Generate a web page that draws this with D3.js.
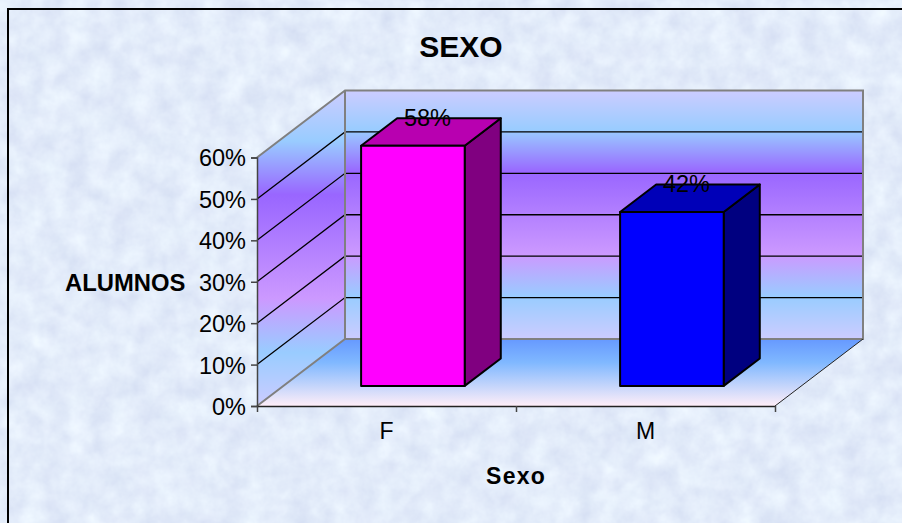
<!DOCTYPE html>
<html>
<head>
  <meta charset="utf-8">
  <script src="https://d3js.org/d3.v7.min.js"></script>
  <style>
    body { margin: 0; background: #fff; }
    svg { display: block; }
    text { font-family: "Liberation Sans", Arial, sans-serif; fill: #000; }
  </style>
</head>
<body>
<div id="chart"></div>
<script>
    // Data
    var categories = ["F", "M"];
    var values = [0.58, 0.42];
    var valueLabels = ["58%", "42%"];
    var yTicks = [0, 0.1, 0.2, 0.3, 0.4, 0.5, 0.6];
    var frontColors = ["#ff00ff", "#0000ff"];
    var topColors = ["#b800b0", "#0000b8"];
    var sideColors = ["#800080", "#000080"];
    var wallStops = [
        [0, "#ccccff"], [0.16, "#99ccff"], [0.33, "#9966ff"],
        [0.66, "#cc99ff"], [0.83, "#99ccff"], [1, "#ccccff"]
    ];
    var floorStops = [[0, "#6699ff"], [0.35, "#80b8ff"], [1, "#ffeef8"]];

    var width = 902, height = 523;
    var left = 257, right = 775, bottom = 406, top_ = 157.5;
    var depthX = 88, depthY = -67;

    var svg = d3.select("#chart").append("svg")
        .attr("width", width)
        .attr("height", height);

    var defs = svg.append("defs");

    // mottled paper background
    var paper = defs.append("filter").attr("id", "paper")
        .attr("x", 0).attr("y", 0).attr("width", 1).attr("height", 1)
        .attr("color-interpolation-filters", "sRGB");
    paper.append("feTurbulence")
        .attr("type", "fractalNoise")
        .attr("baseFrequency", 0.045)
        .attr("numOctaves", 4)
        .attr("seed", 4);
    paper.append("feColorMatrix")
        .attr("type", "matrix")
        .attr("values", "0.12 0.04 0 0 0.81  0.12 0.03 0 0 0.85  0.06 0.02 0 0 0.94  0 0 0 0 1");

    function addGradient(id, stops) {
        var g = defs.append("linearGradient").attr("id", id)
            .attr("x1", 0).attr("y1", 0).attr("x2", 0).attr("y2", 1);
        stops.forEach(function (s) {
            g.append("stop").attr("offset", s[0]).attr("stop-color", s[1]);
        });
    }
    addGradient("wall", wallStops);
    addGradient("floor", floorStops);

    // Scales
    var x = d3.scaleBand()
        .domain(categories)
        .range([left, right])
        .paddingInner(0.6)
        .paddingOuter(0.3);
    var xEdges = d3.scaleLinear().domain([0, categories.length]).range([left, right]);
    var y = d3.scaleLinear().domain([0, 0.6]).range([bottom, top_]);
    var dx = d3.scaleLinear().domain([0, 1]).range([0, depthX]);
    var dy = d3.scaleLinear().domain([0, 1]).range([0, depthY]);

    // screen point for plot x, value v and depth z (0 front, 1 back)
    function pt(px, v, z) {
        return [px + dx(z), y(v) + dy(z)];
    }
    function poly(points) {
        return "M" + points.map(function (p) { return p.join(","); }).join("L") + "Z";
    }

    svg.append("rect")
        .attr("width", width).attr("height", height)
        .attr("filter", "url(#paper)");
    svg.append("path")
        .attr("d", "M8," + height + "V9H" + width)
        .attr("fill", "none")
        .attr("stroke", "#000")
        .attr("stroke-width", 2);

    var vMax = y.domain()[1];

    // Walls and floor
    svg.append("path")
        .attr("d", poly([pt(left, 0, 1), pt(right, 0, 1), pt(right, vMax, 1), pt(left, vMax, 1)]))
        .attr("fill", "url(#wall)");
    svg.append("path")
        .attr("d", poly([pt(left, 0, 0), pt(left, 0, 1), pt(left, vMax, 1), pt(left, vMax, 0)]))
        .attr("fill", "url(#wall)");
    svg.append("path")
        .attr("d", poly([pt(left, 0, 0), pt(right, 0, 0), pt(right, 0, 1), pt(left, 0, 1)]))
        .attr("fill", "url(#floor)");

    // Gridlines
    svg.selectAll(".grid")
        .data(yTicks.filter(function (t) { return t > 0 && t < vMax; }))
        .enter().append("path")
        .attr("class", "grid")
        .attr("fill", "none")
        .attr("stroke", "#000")
        .attr("stroke-width", 1.3)
        .attr("d", function (t) {
            return d3.line()([pt(left, t, 0), pt(left, t, 1), pt(right, t, 1)]);
        });

    // Wall outline
    svg.append("path")
        .attr("d", d3.line()([pt(left, vMax, 0), pt(left, vMax, 1), pt(right, vMax, 1), pt(right, 0, 1), pt(left, 0, 1), pt(left, 0, 0)]))
        .attr("fill", "none")
        .attr("stroke", "#808080")
        .attr("stroke-width", 2);
    svg.append("path")
        .attr("d", d3.line()([pt(left, vMax, 1), pt(left, 0, 1)]))
        .attr("stroke", "#808080")
        .attr("stroke-width", 2);
    svg.append("path")
        .attr("d", d3.line()([pt(right, 0, 0), pt(right, 0, 1)]))
        .attr("stroke", "#222");

    // Axes
    var yAxis = d3.axisLeft(y)
        .tickValues(yTicks)
        .tickFormat(d3.format(".0%"))
        .tickSize(6)
        .tickPadding(5);
    var gy = svg.append("g").attr("transform", "translate(" + left + ",0)").call(yAxis);
    gy.selectAll("text").style("font-size", "23.5px").attr("dy", "0.36em");
    gy.selectAll("line, path").attr("stroke", "#444").attr("stroke-width", 1.5);

    var edgeAxis = d3.axisBottom(xEdges)
        .tickValues(d3.range(categories.length + 1))
        .tickFormat("")
        .tickSize(6)
        .tickSizeOuter(0);
    var ge = svg.append("g").attr("transform", "translate(0," + bottom + ")").call(edgeAxis);
    ge.selectAll("line").attr("stroke", "#444").attr("stroke-width", 1.5);
    ge.select("path").attr("stroke", "#222").attr("stroke-width", 1.5);

    var xAxis = d3.axisBottom(x).tickSize(0).tickPadding(17);
    var gx = svg.append("g").attr("transform", "translate(0," + bottom + ")").call(xAxis);
    gx.select("path").remove();
    gx.selectAll("text").style("font-size", "23px");

    // Bars
    var zFront = 0.3, zBack = 0.71;
    var bars = svg.selectAll(".bar")
        .data(categories)
        .enter().append("g")
        .attr("class", "bar")
        .attr("stroke", "#000")
        .attr("stroke-width", 2)
        .attr("stroke-linejoin", "round");

    bars.append("path")
        .attr("fill", function (d, i) { return sideColors[i]; })
        .attr("d", function (d, i) {
            var x1 = x(d) + x.bandwidth();
            return poly([pt(x1, 0, zFront), pt(x1, 0, zBack), pt(x1, values[i], zBack), pt(x1, values[i], zFront)]);
        });
    bars.append("path")
        .attr("fill", function (d, i) { return topColors[i]; })
        .attr("d", function (d, i) {
            var x0 = x(d), x1 = x0 + x.bandwidth();
            return poly([pt(x0, values[i], zFront), pt(x0, values[i], zBack), pt(x1, values[i], zBack), pt(x1, values[i], zFront)]);
        });
    bars.append("path")
        .attr("fill", function (d, i) { return frontColors[i]; })
        .attr("d", function (d, i) {
            var x0 = x(d), x1 = x0 + x.bandwidth();
            return poly([pt(x0, 0, zFront), pt(x1, 0, zFront), pt(x1, values[i], zFront), pt(x0, values[i], zFront)]);
        });

    // Value labels
    svg.selectAll(".value")
        .data(categories)
        .enter().append("text")
        .attr("class", "value")
        .attr("text-anchor", "middle")
        .style("font-size", "23.5px")
        .attr("x", function (d, i) { return pt(x(d) + x.bandwidth() / 2, values[i], 0.466)[0]; })
        .attr("y", function (d, i) { return pt(x(d) + x.bandwidth() / 2, values[i], 0.466)[1] - 9; })
        .text(function (d, i) { return valueLabels[i]; });

    // Titles
    svg.append("text")
        .attr("x", 461).attr("y", 57)
        .attr("text-anchor", "middle")
        .style("font-size", "30px")
        .style("font-weight", "bold")
        .text("SEXO");
    svg.append("text")
        .attr("x", 65).attr("y", 291)
        .style("font-size", "23.8px")
        .style("font-weight", "bold")
        .text("ALUMNOS");
    svg.append("text")
        .attr("x", 516).attr("y", 484)
        .attr("text-anchor", "middle")
        .style("font-size", "23px")
        .style("font-weight", "bold")
        .style("letter-spacing", "1.2px")
        .text("Sexo");
</script>
</body>
</html>
